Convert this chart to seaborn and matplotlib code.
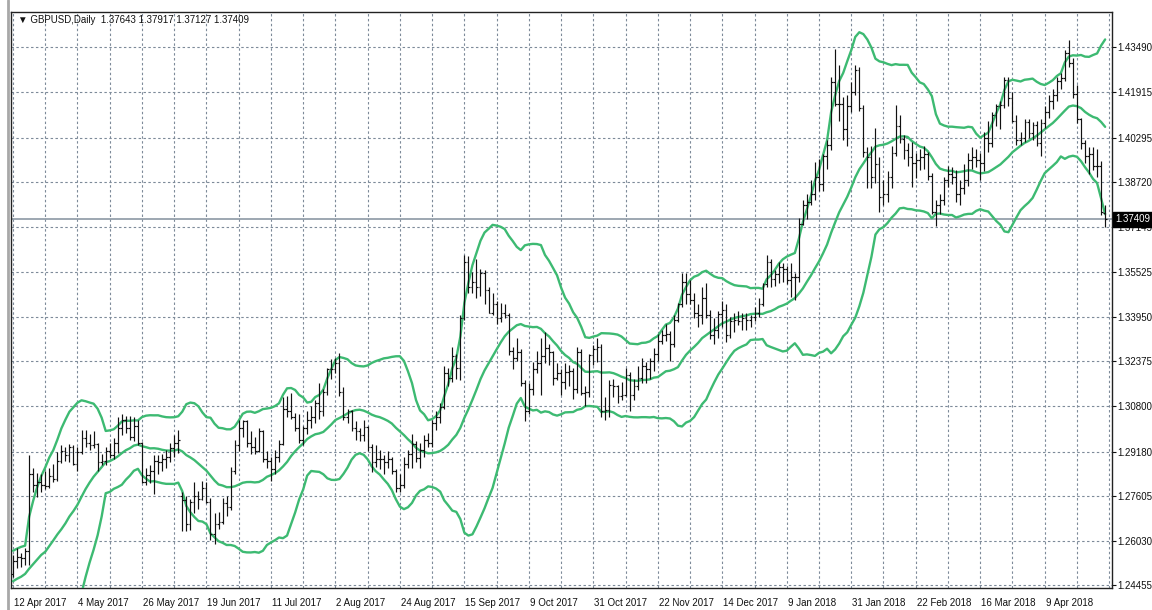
import numpy as np
import pandas as pd
import matplotlib
matplotlib.use("Agg")
import matplotlib.pyplot as plt
import matplotlib.transforms as mtransforms
from matplotlib.lines import Line2D
import seaborn as sns

# ---------------- data ----------------
title_text = "GBPUSD,Daily  1.37643 1.37917 1.37127 1.37409"
last_price = 1.37409

date_labels = ["12 Apr 2017", "4 May 2017", "26 May 2017", "19 Jun 2017", "11 Jul 2017",
               "2 Aug 2017", "24 Aug 2017", "15 Sep 2017", "9 Oct 2017", "31 Oct 2017",
               "22 Nov 2017", "14 Dec 2017", "9 Jan 2018", "31 Jan 2018", "22 Feb 2018",
               "16 Mar 2018", "9 Apr 2018"]
date_label_bars = [0, 16, 32, 48, 64, 80, 96, 112, 128, 144, 160, 176, 192, 208, 224, 240, 256]

price_ticks = [1.24455, 1.26030, 1.27605, 1.29180, 1.30800, 1.32375, 1.33950,
               1.35525, 1.37145, 1.38720, 1.40295, 1.41915, 1.43490]
price_labels = ["1.24455", "1.26030", "1.27605", "1.29180", "1.30800", "1.32375", "1.33950",
                "1.35525", "1.37145", "1.38720", "1.40295", "1.41915", "1.43490"]

# closes before the first visible bar (feed the 20-period Bollinger window)
prior_close = [1.2375, 1.2395, 1.2365, 1.2470, 1.2475, 1.2485, 1.2475, 1.2570, 1.2430, 1.2415,
               1.2465, 1.2550, 1.2490, 1.2445, 1.2490, 1.2470, 1.2400, 1.2410, 1.2475]

bar_open = [
    1.2485, 1.2530, 1.2545, 1.2540, 1.2565, 1.2840, 1.2800, 1.2810, 1.2800, 1.2795,
    1.2830, 1.2820, 1.2885, 1.2920, 1.2905, 1.2935, 1.2875, 1.2915, 1.2965, 1.2950,
    1.2940, 1.2945, 1.2880, 1.2885, 1.2920, 1.2905, 1.2950, 1.3000, 1.3030, 1.3000,
    1.2970, 1.3010, 1.2950, 1.2810, 1.2835, 1.2850, 1.2885, 1.2880, 1.2890, 1.2900,
    1.2930, 1.2950, 1.2760, 1.2745, 1.2660, 1.2740, 1.2760, 1.2750, 1.2790, 1.2740,
    1.2625, 1.2660, 1.2670, 1.2735, 1.2720, 1.2850, 1.2940, 1.3000, 1.3025, 1.2950,
    1.2935, 1.2920, 1.2990, 1.2890, 1.2885, 1.2855, 1.2900, 1.2945, 1.3070, 1.3060,
    1.3040, 1.3000, 1.2960, 1.3000, 1.3030, 1.3040, 1.3090, 1.3060, 1.3130, 1.3210,
    1.3210, 1.3230, 1.3130, 1.3040, 1.3060, 1.3000, 1.2990, 1.2975, 1.3005, 1.2935,
    1.2880, 1.2890, 1.2890, 1.2880, 1.2890, 1.2850, 1.2790, 1.2800, 1.2875, 1.2910,
    1.2945, 1.2895, 1.2925, 1.2960, 1.2950, 1.3020, 1.3040, 1.3075, 1.3195, 1.3180,
    1.3255, 1.3215, 1.3390, 1.3590, 1.3500, 1.3520, 1.3500, 1.3550, 1.3490, 1.3410,
    1.3440, 1.3390, 1.3410, 1.3400, 1.3275, 1.3250, 1.3270, 1.3160, 1.3060, 1.3140,
    1.3210, 1.3230, 1.3255, 1.3285, 1.3270, 1.3180, 1.3195, 1.3165, 1.3200, 1.3205,
    1.3140, 1.3270, 1.3125, 1.3130, 1.3260, 1.3280, 1.3290, 1.3060, 1.3065, 1.3155,
    1.3150, 1.3115, 1.3120, 1.3190, 1.3120, 1.3150, 1.3180, 1.3220, 1.3210, 1.3240,
    1.3265, 1.3310, 1.3330, 1.3335, 1.3300, 1.3385, 1.3440, 1.3520, 1.3475, 1.3455,
    1.3410, 1.3400, 1.3460, 1.3400, 1.3330, 1.3350, 1.3405, 1.3420, 1.3330, 1.3380,
    1.3385, 1.3380, 1.3390, 1.3385, 1.3395, 1.3410, 1.3440, 1.3510, 1.3590, 1.3530,
    1.3545, 1.3570, 1.3565, 1.3525, 1.3535, 1.3535, 1.3725, 1.3790, 1.3800, 1.3830,
    1.3890, 1.3865, 1.3965, 1.4005, 1.4225, 1.4150, 1.4150, 1.4060, 1.4140, 1.4190,
    1.4270, 1.4135, 1.3980, 1.3960, 1.3890, 1.3935, 1.3820, 1.3830, 1.3890, 1.3975,
    1.4070, 1.4025, 1.3985, 1.3960, 1.3940, 1.3950, 1.3960, 1.3970, 1.3895, 1.3765,
    1.3790, 1.3810, 1.3880, 1.3900, 1.3890, 1.3830, 1.3850, 1.3880, 1.3950, 1.3960,
    1.3950, 1.3940, 1.4030, 1.4010, 1.4110, 1.4140, 1.4145, 1.4235, 1.4170, 1.4090,
    1.4020, 1.4030, 1.4085, 1.4045, 1.4075, 1.4010, 1.4080, 1.4120, 1.4160, 1.4180,
    1.4230, 1.4240, 1.4330, 1.4295, 1.4185, 1.4095, 1.4010, 1.3965, 1.3970, 1.3930,
    1.3930, 1.37643]

bar_high = [
    1.2552, 1.2577, 1.2560, 1.2577, 1.2905, 1.2859, 1.2842, 1.2838, 1.2850, 1.2860,
    1.2875, 1.2917, 1.2941, 1.2935, 1.2945, 1.2940, 1.2935, 1.2993, 1.2995, 1.2980,
    1.2990, 1.2950, 1.2910, 1.2935, 1.2950, 1.2965, 1.3040, 1.3050, 1.3045, 1.3045,
    1.3040, 1.3030, 1.2952, 1.2860, 1.2870, 1.2905, 1.2905, 1.2910, 1.2925, 1.2950,
    1.2975, 1.2993, 1.2775, 1.2760, 1.2750, 1.2810, 1.2780, 1.2815, 1.2810, 1.2755,
    1.2700, 1.2705, 1.2755, 1.2760, 1.2863, 1.2960, 1.3030, 1.3030, 1.3030, 1.2990,
    1.2970, 1.3000, 1.2995, 1.2920, 1.2900, 1.2925, 1.2960, 1.3110, 1.3115, 1.3125,
    1.3055, 1.3050, 1.3010, 1.3060, 1.3080, 1.3100, 1.3160, 1.3140, 1.3215, 1.3245,
    1.3250, 1.3268, 1.3145, 1.3070, 1.3065, 1.3025, 1.3000, 1.3030, 1.3010, 1.2945,
    1.2940, 1.2925, 1.2905, 1.2920, 1.2900, 1.2855, 1.2840, 1.2900, 1.2925, 1.2980,
    1.2955, 1.2950, 1.2975, 1.2985, 1.3030, 1.3060, 1.3090, 1.3220, 1.3215, 1.3290,
    1.3265, 1.3400, 1.3615, 1.3610, 1.3555, 1.3600, 1.3565, 1.3560, 1.3500, 1.3480,
    1.3450, 1.3445, 1.3440, 1.3410, 1.3290, 1.3320, 1.3280, 1.3170, 1.3160, 1.3235,
    1.3275, 1.3320, 1.3340, 1.3300, 1.3275, 1.3230, 1.3210, 1.3230, 1.3225, 1.3215,
    1.3290, 1.3280, 1.3150, 1.3265, 1.3295, 1.3320, 1.3300, 1.3110, 1.3170, 1.3175,
    1.3155, 1.3165, 1.3215, 1.3200, 1.3175, 1.3220, 1.3250, 1.3235, 1.3250, 1.3285,
    1.3335, 1.3350, 1.3370, 1.3345, 1.3400, 1.3445, 1.3550, 1.3550, 1.3525, 1.3480,
    1.3440, 1.3500, 1.3515, 1.3420, 1.3390, 1.3415, 1.3450, 1.3440, 1.3395, 1.3410,
    1.3415, 1.3410, 1.3410, 1.3400, 1.3430, 1.3460, 1.3515, 1.3615, 1.3600, 1.3560,
    1.3590, 1.3585, 1.3575, 1.3585, 1.3550, 1.3745, 1.3810, 1.3830, 1.3880, 1.3945,
    1.3955, 1.3970, 1.4020, 1.4245, 1.4345, 1.4285, 1.4175, 1.4180, 1.4225, 1.4285,
    1.4280, 1.4145, 1.3995, 1.4000, 1.4065, 1.3960, 1.3880, 1.3910, 1.4000, 1.4145,
    1.4110, 1.4040, 1.4010, 1.4015, 1.3975, 1.3990, 1.4000, 1.3980, 1.3905, 1.3810,
    1.3830, 1.3890, 1.3930, 1.3925, 1.3915, 1.3880, 1.3935, 1.3975, 1.3995, 1.3990,
    1.3975, 1.4050, 1.4090, 1.4120, 1.4150, 1.4160, 1.4245, 1.4245, 1.4190, 1.4110,
    1.4050, 1.4095, 1.4095, 1.4085, 1.4090, 1.4095, 1.4140, 1.4180, 1.4200, 1.4245,
    1.4260, 1.4340, 1.4377, 1.4310, 1.4215, 1.4100, 1.4020, 1.3995, 1.3995, 1.3990,
    1.3946, 1.37917]

bar_low = [
    1.2474, 1.2506, 1.2508, 1.2516, 1.2516, 1.2774, 1.2757, 1.2774, 1.2785, 1.2790,
    1.2810, 1.2815, 1.2877, 1.2885, 1.2880, 1.2870, 1.2850, 1.2910, 1.2935, 1.2925,
    1.2930, 1.2850, 1.2870, 1.2870, 1.2895, 1.2890, 1.2914, 1.2975, 1.2985, 1.2960,
    1.2955, 1.2940, 1.2806, 1.2800, 1.2805, 1.2767, 1.2840, 1.2850, 1.2860, 1.2880,
    1.2900, 1.2914, 1.2635, 1.2635, 1.2640, 1.2700, 1.2715, 1.2745, 1.2735, 1.2605,
    1.2589, 1.2645, 1.2660, 1.2690, 1.2711, 1.2840, 1.2920, 1.2970, 1.2935, 1.2910,
    1.2910, 1.2915, 1.2880, 1.2860, 1.2812, 1.2840, 1.2880, 1.2940, 1.3040, 1.3035,
    1.2990, 1.2950, 1.2940, 1.2980, 1.3000, 1.3020, 1.3035, 1.3045, 1.3120, 1.3175,
    1.3195, 1.3115, 1.3030, 1.3020, 1.2990, 1.2960, 1.2955, 1.2955, 1.2920, 1.2845,
    1.2865, 1.2855, 1.2840, 1.2860, 1.2840, 1.2775, 1.2775, 1.2790, 1.2860, 1.2860,
    1.2880, 1.2860, 1.2900, 1.2935, 1.2935, 1.2995, 1.3020, 1.3070, 1.3150, 1.3165,
    1.3175, 1.3170, 1.3385, 1.3480, 1.3480, 1.3460, 1.3470, 1.3440, 1.3410, 1.3400,
    1.3370, 1.3375, 1.3390, 1.3260, 1.3210, 1.3240, 1.3150, 1.3027, 1.3050, 1.3120,
    1.3195, 1.3120, 1.3230, 1.3225, 1.3155, 1.3170, 1.3120, 1.3140, 1.3150, 1.3105,
    1.3125, 1.3120, 1.3080, 1.3110, 1.3225, 1.3235, 1.3040, 1.3030, 1.3040, 1.3110,
    1.3090, 1.3100, 1.3115, 1.3060, 1.3100, 1.3135, 1.3160, 1.3160, 1.3175, 1.3205,
    1.3240, 1.3300, 1.3310, 1.3240, 1.3290, 1.3375, 1.3430, 1.3440, 1.3440, 1.3390,
    1.3360, 1.3370, 1.3390, 1.3315, 1.3300, 1.3320, 1.3360, 1.3305, 1.3320, 1.3340,
    1.3365, 1.3350, 1.3350, 1.3360, 1.3380, 1.3395, 1.3435, 1.3500, 1.3500, 1.3505,
    1.3515, 1.3520, 1.3510, 1.3465, 1.3455, 1.3520, 1.3720, 1.3740, 1.3790, 1.3810,
    1.3840, 1.3840, 1.3920, 1.3985, 1.4140, 1.4090, 1.4020, 1.4000, 1.4120, 1.4180,
    1.4125, 1.3960, 1.3850, 1.3850, 1.3870, 1.3765, 1.3790, 1.3800, 1.3850, 1.3965,
    1.4010, 1.3955, 1.3930, 1.3855, 1.3885, 1.3915, 1.3920, 1.3880, 1.3760, 1.3715,
    1.3760, 1.3790, 1.3855, 1.3865, 1.3800, 1.3790, 1.3830, 1.3860, 1.3920, 1.3925,
    1.3880, 1.3910, 1.3980, 1.3995, 1.4070, 1.4060, 1.4135, 1.4140, 1.4085, 1.4005,
    1.4005, 1.4015, 1.4030, 1.4020, 1.4000, 1.3965, 1.4065, 1.4100, 1.4130, 1.4160,
    1.4200, 1.4230, 1.4280, 1.4170, 1.4080, 1.3990, 1.3940, 1.3900, 1.3915, 1.3890,
    1.3757, 1.37127]

bar_close = [
    1.2530, 1.2545, 1.2540, 1.2565, 1.2840, 1.2800, 1.2810, 1.2800, 1.2795, 1.2830,
    1.2820, 1.2885, 1.2920, 1.2905, 1.2935, 1.2875, 1.2915, 1.2965, 1.2950, 1.2940,
    1.2945, 1.2880, 1.2885, 1.2920, 1.2905, 1.2950, 1.3000, 1.3030, 1.3000, 1.2970,
    1.3010, 1.2950, 1.2810, 1.2835, 1.2850, 1.2885, 1.2880, 1.2890, 1.2900, 1.2930,
    1.2950, 1.2960, 1.2745, 1.2660, 1.2740, 1.2760, 1.2750, 1.2790, 1.2740, 1.2625,
    1.2660, 1.2670, 1.2735, 1.2720, 1.2850, 1.2940, 1.3000, 1.3025, 1.2950, 1.2935,
    1.2920, 1.2990, 1.2890, 1.2885, 1.2855, 1.2900, 1.2945, 1.3070, 1.3060, 1.3040,
    1.3000, 1.2960, 1.3000, 1.3030, 1.3040, 1.3090, 1.3060, 1.3130, 1.3210, 1.3210,
    1.3230, 1.3130, 1.3040, 1.3060, 1.3000, 1.2990, 1.2975, 1.3005, 1.2935, 1.2880,
    1.2890, 1.2890, 1.2880, 1.2890, 1.2850, 1.2790, 1.2800, 1.2875, 1.2910, 1.2945,
    1.2895, 1.2925, 1.2960, 1.2950, 1.3020, 1.3040, 1.3075, 1.3195, 1.3180, 1.3255,
    1.3215, 1.3390, 1.3590, 1.3500, 1.3520, 1.3500, 1.3550, 1.3490, 1.3410, 1.3440,
    1.3390, 1.3410, 1.3400, 1.3275, 1.3250, 1.3270, 1.3160, 1.3060, 1.3140, 1.3210,
    1.3230, 1.3255, 1.3285, 1.3270, 1.3180, 1.3195, 1.3165, 1.3200, 1.3205, 1.3140,
    1.3270, 1.3125, 1.3130, 1.3260, 1.3280, 1.3290, 1.3060, 1.3065, 1.3155, 1.3150,
    1.3115, 1.3120, 1.3190, 1.3120, 1.3150, 1.3180, 1.3220, 1.3210, 1.3240, 1.3265,
    1.3310, 1.3330, 1.3335, 1.3300, 1.3385, 1.3440, 1.3520, 1.3475, 1.3455, 1.3410,
    1.3400, 1.3460, 1.3400, 1.3330, 1.3350, 1.3405, 1.3420, 1.3330, 1.3380, 1.3385,
    1.3380, 1.3390, 1.3385, 1.3395, 1.3410, 1.3440, 1.3510, 1.3590, 1.3530, 1.3545,
    1.3570, 1.3565, 1.3525, 1.3535, 1.3535, 1.3725, 1.3790, 1.3800, 1.3830, 1.3890,
    1.3865, 1.3965, 1.4005, 1.4225, 1.4150, 1.4150, 1.4060, 1.4140, 1.4190, 1.4270,
    1.4135, 1.3980, 1.3960, 1.3890, 1.3935, 1.3820, 1.3830, 1.3890, 1.3975, 1.4070,
    1.4025, 1.3985, 1.3960, 1.3940, 1.3950, 1.3960, 1.3970, 1.3895, 1.3765, 1.3790,
    1.3810, 1.3880, 1.3900, 1.3890, 1.3830, 1.3850, 1.3880, 1.3950, 1.3960, 1.3950,
    1.3940, 1.4030, 1.4010, 1.4110, 1.4140, 1.4145, 1.4235, 1.4170, 1.4090, 1.4020,
    1.4030, 1.4085, 1.4045, 1.4075, 1.4010, 1.4080, 1.4120, 1.4160, 1.4180, 1.4230,
    1.4240, 1.4330, 1.4295, 1.4185, 1.4095, 1.4010, 1.3965, 1.3970, 1.3930, 1.3930,
    1.3765, 1.37409]

# ---------------- derived: Bollinger Bands (20, 2) ----------------
n = len(bar_close)
all_close = pd.Series(prior_close + bar_close)
mid = all_close.rolling(20).mean().iloc[-n:].to_numpy()
sd = all_close.rolling(20).std(ddof=0).iloc[-n:].to_numpy()
df = pd.DataFrame({"bar": np.arange(n), "open": bar_open, "high": bar_high,
                   "low": bar_low, "close": bar_close,
                   "mid": mid, "upper": mid + 2 * sd, "lower": mid - 2 * sd})

# ---------------- figure ----------------
sns.set_style("white")
plt.rcParams["font.family"] = ["Liberation Sans", "DejaVu Sans"]

W, H = 1152, 610
fig = plt.figure(figsize=(W / 100, H / 100), dpi=100)
ax_l, ax_r, ax_t, ax_b = 11, 1112, 12, 588
ax = fig.add_axes([ax_l / W, 1 - ax_b / H, (ax_r - ax_l) / W, (ax_b - ax_t) / H])

grid_col = "#7d8a99"
dash = (0, (2.2, 2.2))
for p in price_ticks:
    ax.axhline(p, color=grid_col, lw=0.8, ls=dash, zorder=1)
for b in range(0, 273, 8):
    ax.axvline(b, color=grid_col, lw=0.8, ls=dash, zorder=1)

# current price line
ax.axhline(last_price, color="#8c98a4", lw=1.2, zorder=2)

# Bollinger bands
green = "#3dba72"
for col in ["upper", "mid", "lower"]:
    sns.lineplot(data=df, x="bar", y=col, ax=ax, color=green, lw=1.7, zorder=3,
                 estimator=None, legend=False)

# OHLC bars
x = df["bar"].to_numpy()
ax.vlines(x, df["low"], df["high"], color="#111111", lw=0.85, zorder=4)
ax.hlines(df["open"], x - 0.45, x, color="#111111", lw=0.85, zorder=4)
ax.hlines(df["close"], x, x + 0.45, color="#111111", lw=0.85, zorder=4)

ax.set_xlim(-0.5, 272.7)
ax.set_ylim(1.24349, 1.44744)

# axes cosmetics
for s in ["left", "right", "top", "bottom"]:
    ax.spines[s].set_visible(True)
    ax.spines[s].set_color("#222222")
    ax.spines[s].set_linewidth(1.0)

ax.set_xticks(date_label_bars)
ax.set_xticklabels(date_labels, fontsize=7, color="#111111")
ax.tick_params(axis="x", direction="out", length=4, width=0.8, color="#111111", pad=3)
offset = mtransforms.ScaledTranslation(1 / 100, 0, fig.dpi_scale_trans)
for lab in ax.get_xticklabels():
    lab.set_horizontalalignment("left")
    lab.set_transform(lab.get_transform() + offset)

ax.yaxis.tick_right()
ax.set_yticks(price_ticks)
ax.set_yticklabels(price_labels, fontsize=7, color="#111111")
ax.tick_params(axis="y", direction="out", length=3, width=0.8, color="#111111", pad=1)
ax.set_xlabel("")
ax.set_ylabel("")

# title
ax.text(0.006, 0.986, "\u25bc " + title_text, transform=ax.transAxes, fontsize=7,
        va="center", ha="left", color="#111111")

# current price box
trans = mtransforms.blended_transform_factory(ax.transAxes, ax.transData)
ax.text(1.0 + 3 / (ax_r - ax_l), last_price, f"{last_price:.5f}", transform=trans,
        fontsize=7, color="white", va="center", ha="left", zorder=10,
        bbox=dict(boxstyle="square,pad=0.25", fc="black", ec="black"))

# window border at the left
fig.add_artist(Line2D([7.5 / W, 7.5 / W], [0, 1], color="#a8a8a8", lw=2.0))

fig.savefig("out.png", dpi=100, facecolor="white")
